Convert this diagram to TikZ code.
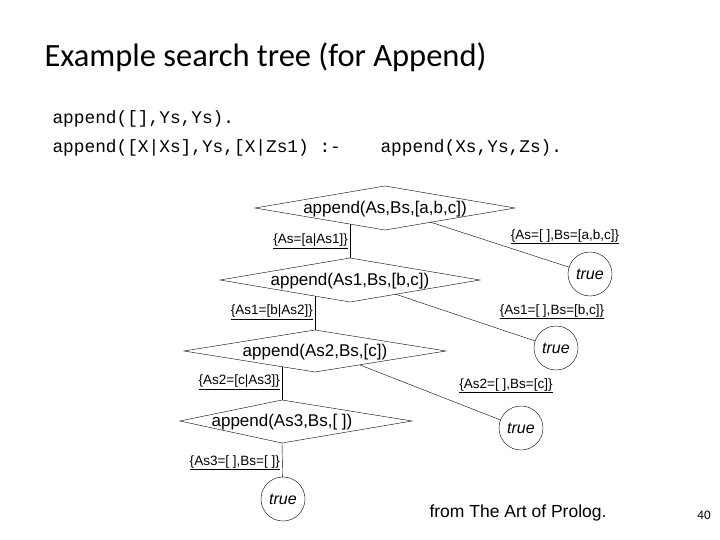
\documentclass[tikz,border=0pt]{standalone}
\usepackage{fontspec}
\setmainfont{Liberation Sans}
\newfontfamily\titlefont{Carlito}
\setmonofont{Liberation Mono}
\usetikzlibrary{positioning}
\tikzset{
    x=1pt, y=-1pt,
    goal/.style={inner sep=0pt, font=\fontsize{17}{17}\selectfont}, % text of a goal
    leaf/.style={draw, circle, minimum size=44pt, inner sep=0pt, font=\fontsize{16}{16}\selectfont\itshape},
    subst/.style={font=\fontsize{13.5}{13.5}\selectfont, inner sep=1pt},
    code/.style={anchor=west, font=\ttfamily\fontsize{17.8}{17.8}\selectfont}
}
\newcommand{\ul}[1]{\underline{#1}}
\begin{document}
\begin{tikzpicture}
                \useasboundingbox (0,0) rectangle (720,540);
                % header
                \node[anchor=west, font=\titlefont\fontsize{32.5}{32.5}\selectfont] (title) at (41,57) {Example search tree (for Append)};
                \node[code] (code1) at (49,119) {append([],Ys,Ys).};
                \node[code] (code2) at (49,148) {append([X|Xs],Ys,[X|Zs1) :-};
                \node[code] (code3) at (377,148) {append(Xs,Ys,Zs).};

                % goal diamonds
                \draw (255,208) -- (385,186) -- (515,208) -- (385,230) -- cycle;
                \draw (220,280) -- (350,258) -- (480,280) -- (350,302) -- cycle;
                \draw (184,351) -- (315,330) -- (446,351) -- (315,372) -- cycle;
                \draw (180,421) -- (282,400) -- (412,421) -- (282,443) -- cycle;

                % nodes
                \node[goal] (g1) at (385,209) {append(As,Bs,[a,b,c])};
                \node[goal] (g2) at (350,281) {append(As1,Bs,[b,c])};
                \node[goal] (g3) at (315,352) {append(As2,Bs,[c])};
                \node[goal] (g4) at (282,422) {append(As3,Bs,[ ])};
                \coordinate (g1l) at (350,224); \coordinate (g1r) at (430,222);
                \coordinate (g2t) at (350,258); \coordinate (g2l) at (315,296); \coordinate (g2r) at (395,294);
                \coordinate (g3t) at (315,330); \coordinate (g3l) at (282,367); \coordinate (g3r) at (360,365);
                \coordinate (g4t) at (282,400); \coordinate (g4b) at (282,443);
                \node[leaf] (t1) at (590,274) {true};
                \node[leaf] (t2) at (556,348) {true};
                \node[leaf] (t3) at (521,428) {true};
                \node[leaf] (t4) at (283,499) {true};

                % edges
                \draw (g1l) -- (g2t);
                \draw (g2l) -- (g3t);
                \draw (g3l) -- (g4t);
                \draw (g4b) -- (t4);
                \draw (g1r) -- (t1);
                \draw (g2r) -- (t2);
                \draw (g3r) -- (t3);

                % substitutions
                \node[subst, anchor=east] (s1) at (349,241) {\ul{\{As=[a|As1]\}}};
                \node[subst, anchor=east] (s2) at (314,312) {\ul{\{As1=[b|As2]\}}};
                \node[subst, anchor=east] (s3) at (281,382) {\ul{\{As2=[c|As3]\}}};
                \node[subst, anchor=east] (s4) at (281,463) {\ul{\{As3=[ ],Bs=[ ]\}}};
                \node[subst] (r1) at (565,237) {\ul{\{As=[ ],Bs=[a,b,c]\}}};
                \node[subst] (r2) at (552,312) {\ul{\{As1=[ ],Bs=[b,c]\}}};
                \node[subst] (r3) at (506,386) {\ul{\{As2=[ ],Bs=[c]\}}};

                % footer
                \node[font=\fontsize{17.5}{17.5}\selectfont] (src) at (518,513) {from The Art of Prolog.};
                \node[font=\titlefont\fontsize{13}{13}\selectfont] (page) at (704,515) {40};
\end{tikzpicture}
\end{document}
